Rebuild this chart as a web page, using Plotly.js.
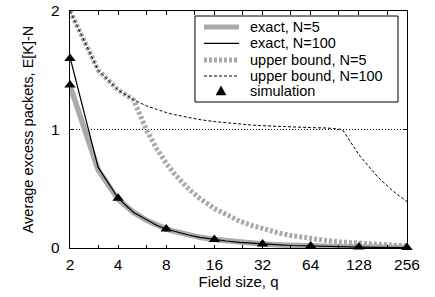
<!DOCTYPE html>
<html>
<head>
<meta charset="utf-8">
<script src="https://cdn.plot.ly/plotly-3.0.1.min.js"></script>
<style>html,body{margin:0;padding:0;background:#fff;}#chart{width:435px;height:297px;}</style>
</head>
<body>
<div id="chart"></div>
<script>
// Field sizes q at which the curves are drawn
const qValues = [2, 3, 4, 5, 6, 7, 8, 9, 11, 13, 16, 19, 23, 27, 32, 41, 49, 64, 81, 101, 128, 169, 211, 256];
// exact, N=5
const exactN5 = [1.37, 0.66, 0.41, 0.30, 0.235, 0.19, 0.16, 0.14, 0.11, 0.09, 0.071, 0.059, 0.047, 0.040, 0.033, 0.026, 0.021, 0.016, 0.0125, 0.010, 0.008, 0.006, 0.0048, 0.004];
// exact, N=100
const exactN100 = [1.61, 0.68, 0.42, 0.30, 0.24, 0.19, 0.16, 0.14, 0.11, 0.09, 0.071, 0.059, 0.047, 0.040, 0.033, 0.026, 0.021, 0.016, 0.0125, 0.010, 0.008, 0.006, 0.0048, 0.004];
// upper bound, N=5
const boundN5 = [2.0, 1.5, 1.333, 1.25, 1.0, 0.833, 0.714, 0.625, 0.5, 0.417, 0.333, 0.278, 0.227, 0.192, 0.161, 0.125, 0.104, 0.079, 0.0625, 0.05, 0.039, 0.030, 0.024, 0.0196];
// upper bound, N=100
const boundN100 = [2.0, 1.5, 1.333, 1.25, 1.2, 1.167, 1.143, 1.125, 1.1, 1.083, 1.067, 1.056, 1.045, 1.038, 1.032, 1.025, 1.021, 1.016, 1.0125, 1.0, 0.787, 0.595, 0.476, 0.392];
// simulation points
const simQ = [2, 2, 4, 8, 16, 32, 64, 128, 256];
const simY = [1.6, 1.375, 0.42, 0.16, 0.072, 0.033, 0.016, 0.008, 0.004];
// ticks
const xTickVals = [2, 3, 4, 6, 8, 12, 16, 24, 32, 48, 64, 96, 128, 192, 256];
const xTickText = ['2', '', '4', '', '8', '', '16', '', '32', '', '64', '', '128', '', '256'];
const yTickVals = [0, 1, 2];
const yTickText = ['0', '1', '2'];
// legend labels
const legendLabels = ['exact, N=5', 'exact, N=100', 'upper bound, N=5', 'upper bound, N=100', 'simulation'];

const GRAY = '#aaaaaa';
const FONT = '"Liberation Sans", Arial, Helvetica, sans-serif';

const traces = [
  {x: qValues, y: exactN5, mode: 'lines', line: {color: GRAY, width: 5.5}, name: legendLabels[0], cliponaxis: false},
  {x: qValues, y: boundN5, mode: 'lines', line: {color: GRAY, width: 5, dash: '3px,2px'}, name: legendLabels[2]},
  {x: qValues, y: exactN100, mode: 'lines', line: {color: '#000', width: 1.2}, name: legendLabels[1]},
  {x: qValues, y: boundN100, mode: 'lines', line: {color: '#000', width: 1, dash: '3px,2px'}, name: legendLabels[3]},
  {x: simQ, y: simY, mode: 'markers', marker: {symbol: 'triangle-up', size: 10, color: '#000'}, name: legendLabels[4], cliponaxis: false}
];

// manual legend geometry (paper coordinates)
const lgX0 = 0.3709, lgX1 = 0.9733, lgY0 = 0.616, lgY1 = 0.9789;
const rowY = [0.9325, 0.8637, 0.7932, 0.7257, 0.6624];
const sampleX0 = 0.3976, sampleX1 = 0.5015, textX = 0.5282;

const shapes = [
  {type: 'line', xref: 'paper', yref: 'y', x0: 0, x1: 1, y0: 1, y1: 1, layer: 'below', line: {color: '#000', width: 1, dash: '1px,2px'}},
  {type: 'rect', xref: 'paper', yref: 'paper', x0: lgX0, x1: lgX1, y0: lgY0, y1: lgY1, fillcolor: '#fff', line: {color: '#000', width: 1}},
  {type: 'line', xref: 'paper', yref: 'paper', x0: sampleX0, x1: sampleX1, y0: rowY[0], y1: rowY[0], line: {color: GRAY, width: 5}},
  {type: 'line', xref: 'paper', yref: 'paper', x0: sampleX0, x1: sampleX1, y0: rowY[1], y1: rowY[1], line: {color: '#000', width: 1.2}},
  {type: 'line', xref: 'paper', yref: 'paper', x0: sampleX0, x1: sampleX1, y0: rowY[2], y1: rowY[2], line: {color: GRAY, width: 5, dash: '3px,2px'}},
  {type: 'line', xref: 'paper', yref: 'paper', x0: sampleX0, x1: sampleX1, y0: rowY[3], y1: rowY[3], line: {color: '#000', width: 1, dash: '3px,2px'}},
  {type: 'path', xref: 'paper', yref: 'paper', path: 'M 0.4332 0.6456 L 0.4629 0.6456 L 0.4481 0.6835 Z', fillcolor: '#000', line: {color: '#000', width: 0.5}}
];

const annotations = legendLabels.map((t, i) => ({
  xref: 'paper', yref: 'paper', x: textX, y: rowY[i], xanchor: 'left', yanchor: 'middle',
  text: t, showarrow: false, font: {family: FONT, size: 14.5, color: '#000'}
}));

const layout = {
  width: 435, height: 297,
  margin: {l: 70, r: 28, t: 11, b: 49},
  paper_bgcolor: '#fff', plot_bgcolor: '#fff',
  font: {family: FONT, size: 15, color: '#000'},
  showlegend: false,
  xaxis: {
    type: 'log', range: [Math.log10(2) - 1e-5, Math.log10(256) + 1e-5],
    tickvals: xTickVals, ticktext: xTickText,
    ticks: 'inside', ticklen: 3.5, tickwidth: 1, tickcolor: '#000',
    showline: true, linecolor: '#000', linewidth: 1.3, mirror: 'ticks',
    showgrid: false, zeroline: false, ticklabelstandoff: 2,
    automargin: true,
    tickfont: {family: FONT, size: 15.5, color: '#000'},
    title: {text: 'Field size, q', font: {family: FONT, size: 15, color: '#000'}, standoff: 3}
  },
  yaxis: {
    range: [0, 2], tickvals: yTickVals, ticktext: yTickText,
    ticks: 'inside', ticklen: 3.5, tickwidth: 1, tickcolor: '#000',
    showline: true, linecolor: '#000', linewidth: 1.3, mirror: 'ticks',
    showgrid: false, zeroline: false, ticklabelstandoff: 6,
    tickfont: {family: FONT, size: 15.5, color: '#000'},
    title: {text: 'Average excess packets, E[K]-N', font: {family: FONT, size: 14.5, color: '#000'}, standoff: 14}
  },
  shapes: shapes,
  annotations: annotations
};

Plotly.newPlot('chart', traces, layout, {displayModeBar: false, staticPlot: true});
</script>
</body>
</html>
